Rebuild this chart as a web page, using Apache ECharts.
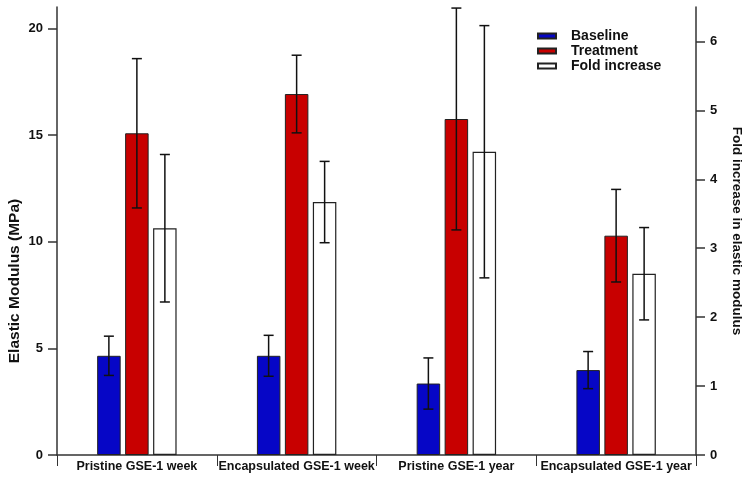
<!DOCTYPE html>
<html>
<head>
<meta charset="utf-8">
<script src="https://cdn.jsdelivr.net/npm/echarts@6/dist/echarts.min.js"></script>
<style>html,body{margin:0;padding:0;background:#fff}#main{width:750px;height:479px}</style>
</head>
<body>
<div id="main"></div>
<script>
var categories = ['Pristine GSE-1 week', 'Encapsulated GSE-1 week', 'Pristine GSE-1 year', 'Encapsulated GSE-1 year'];
var baseline = [4.65, 4.65, 3.35, 3.98];
var baselineErr = [0.92, 0.96, 1.2, 0.87];
var treatment = [15.08, 16.92, 15.75, 10.28];
var treatmentErr = [3.5, 1.82, 5.2, 2.17];
var foldIncrease = [3.29, 3.67, 4.40, 2.63];
var foldErr = [1.07, 0.59, 1.83, 0.67];
var leftTicks = [0, 5, 10, 15, 20];
var rightTicks = [0, 1, 2, 3, 4, 5, 6];

var FONT = '"Liberation Sans", Arial, sans-serif';
var chart = echarts.init(document.getElementById('main'), null, {renderer: 'canvas'});

function errSeries(name, vals, errs, yIdx, offset) {
  var data = vals.map(function (v, i) { return [i, v, errs[i]]; });
  return {
    name: name, type: 'custom', yAxisIndex: yIdx, z: 10, silent: true,
    data: data,
    encode: {x: 0, y: 1},
    renderItem: function (params, api) {
      var i = api.value(0), v = api.value(1), e = api.value(2);
      var c = api.coord([i, v]);
      var x = c[0] + offset;
      var yt = api.coord([i, v + e])[1];
      var yb = api.coord([i, v - e])[1];
      var s = {stroke: '#111', lineWidth: 1.5};
      return {type: 'group', children: [
        {type: 'line', shape: {x1: x, y1: yt, x2: x, y2: yb}, style: s},
        {type: 'line', shape: {x1: x - 5, y1: yt, x2: x + 5, y2: yt}, style: s},
        {type: 'line', shape: {x1: x - 5, y1: yb, x2: x + 5, y2: yb}, style: s}
      ]};
    }
  };
}

var axisLineStyle = {color: '#333', width: 1.5};
var option = {
  animation: false,
  backgroundColor: '#fff',
  textStyle: {fontFamily: FONT},
  grid: {left: 57, right: 54, top: 7, bottom: 24, containLabel: false, outerBoundsMode: 'none'},
  legend: {
    orient: 'vertical', left: 537, top: 29, padding: 0,
    itemWidth: 18, itemHeight: 5, itemGap: 1,
    icon: 'rect',
    data: ['Baseline', 'Treatment', 'Fold increase'],
    textStyle: {fontFamily: FONT, fontWeight: 'bold', fontSize: 14, color: '#111', padding: [0, 0, 0, 10], lineHeight: 14}
  },
  xAxis: {
    type: 'category', data: categories, boundaryGap: true,
    axisLine: {lineStyle: axisLineStyle},
    axisTick: {show: true, length: 11, lineStyle: {color: '#333', width: 1}},
    axisLabel: {fontFamily: FONT, fontWeight: 'bold', fontSize: 12.5, color: '#111', margin: 5, interval: 0}
  },
  yAxis: [
    {
      type: 'value', min: 0, max: 21, position: 'left',
      name: 'Elastic Modulus (MPa)', nameLocation: 'middle', nameGap: 34, nameRotate: 90, nameMoveOverlap: false,
      nameTextStyle: {fontFamily: FONT, fontWeight: 'bold', fontSize: 15.5, color: '#111', padding: [0, 100, 0, 0]},
      axisLine: {show: true, lineStyle: axisLineStyle},
      axisTick: {show: true, length: 9, customValues: leftTicks, lineStyle: {color: '#333', width: 1.5}},
      axisLabel: {fontFamily: FONT, fontWeight: 'bold', fontSize: 13, color: '#111', margin: 14, customValues: leftTicks},
      splitLine: {show: false}
    },
    {
      type: 'value', min: 0, max: 6.5, position: 'right',
      name: 'Fold increase in elastic modulus', nameLocation: 'middle', nameGap: 34, nameRotate: -90,
      nameTextStyle: {fontFamily: FONT, fontWeight: 'bold', fontSize: 13.5, color: '#111'},
      axisLine: {show: true, lineStyle: axisLineStyle},
      axisTick: {show: true, length: 9, customValues: rightTicks, lineStyle: {color: '#333', width: 1.5}},
      axisLabel: {fontFamily: FONT, fontWeight: 'bold', fontSize: 13, color: '#111', margin: 14, customValues: rightTicks},
      splitLine: {show: false}
    }
  ],
  series: [
    {name: 'Baseline', type: 'bar', yAxisIndex: 0, data: baseline, barWidth: 23.5, barGap: '19%',
     itemStyle: {color: '#0606c6', borderColor: '#222', borderWidth: 1}},
    {name: 'Treatment', type: 'bar', yAxisIndex: 0, data: treatment, barWidth: 23.5, barGap: '19%',
     itemStyle: {color: '#c80000', borderColor: '#222', borderWidth: 1}},
    {name: 'Fold increase', type: 'bar', yAxisIndex: 1, data: foldIncrease, barWidth: 23.5, barGap: '19%',
     itemStyle: {color: '#ffffff', borderColor: '#222', borderWidth: 1.2}},
    errSeries('err-baseline', baseline, baselineErr, 0, -28),
    errSeries('err-treatment', treatment, treatmentErr, 0, 0),
    errSeries('err-fold', foldIncrease, foldErr, 1, 28)
  ]
};
chart.setOption(option);
</script>
</body>
</html>
